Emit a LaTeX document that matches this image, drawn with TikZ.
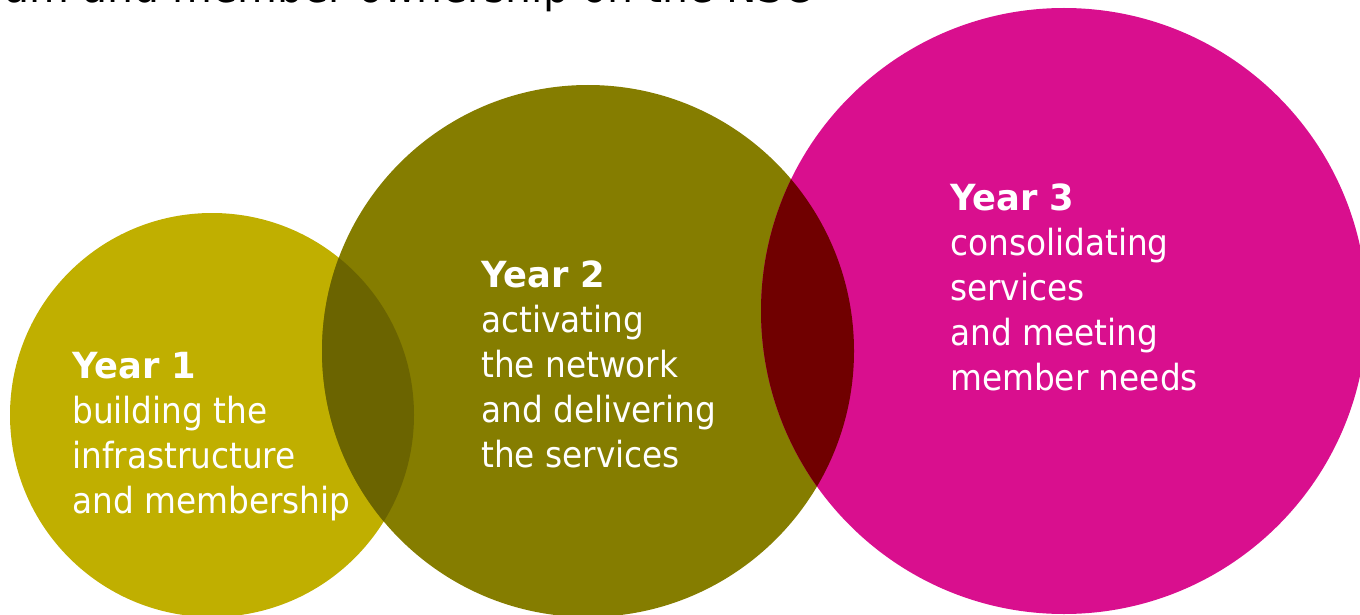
\documentclass[tikz,border=0pt]{standalone}
\usepackage{fontspec}
\setmainfont{DejaVu Sans}[FakeStretch=0.91, BoldFeatures={FakeStretch=0.98}]
\definecolor{cyone}{HTML}{C0AF00}
\definecolor{cytwo}{HTML}{857D00}
\definecolor{cythree}{HTML}{D90F8E}
\definecolor{lensone}{HTML}{6B6400}
\definecolor{lenstwo}{HTML}{700000}
\tikzset{
  lbl/.style={text=white, font=\fontsize{36}{45}\selectfont, align=left, anchor=base west, inner sep=0pt},
}
\begin{document}
\begin{tikzpicture}[x=1pt,y=-1pt]
\useasboundingbox (0,0) rectangle (1360,615);
\clip (0,0) rectangle (1360,615);
\fill[cyone] (212,415) circle (202pt);
\fill[cytwo] (588,351) circle (266pt);
\begin{scope}
  \clip (212,415) circle (202pt);
  \fill[lensone] (588,351) circle (266pt);
\end{scope}
\fill[cythree] (1064,311) circle (303pt);
\begin{scope}
  \clip (588,351) circle (266pt);
  \fill[lenstwo] (1064,311) circle (303pt);
\end{scope}
\node[anchor=base east, inner sep=0pt, font=\fontsize{45}{54}\selectfont, text=black] (title) at (812,3) {am and member ownership on the NSC};
\node[lbl] (y1) at (72,513) {{\bfseries Year 1}\\building the\\infrastructure\\and membership};
\node[lbl] (y2) at (481,467) {{\bfseries Year 2}\\activating\\the network\\and delivering\\the services};
\node[lbl] (y3) at (950,390) {{\bfseries Year 3}\\consolidating\\services\\and meeting\\member needs};
\end{tikzpicture}
\end{document}
